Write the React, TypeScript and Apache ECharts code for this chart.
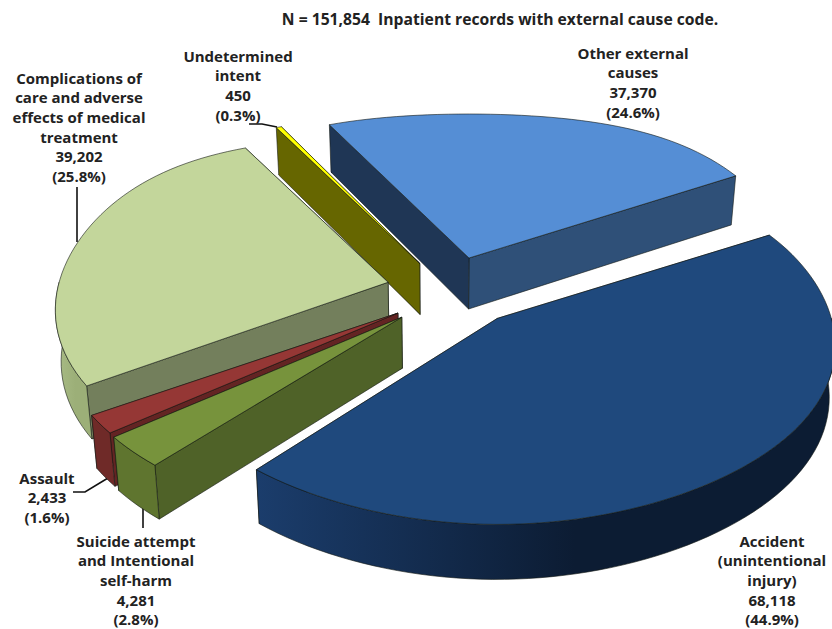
import React, { useEffect, useRef } from "react";
import * as echarts from "echarts";

// Slices in clockwise order, starting from the top-left of "Other external causes"
const categories = [
  "Other external\ncauses",
  "Accident\n(unintentional\ninjury)",
  "Suicide attempt\nand Intentional\nself-harm",
  "Assault",
  "Complications of\ncare and adverse\neffects of medical\ntreatment",
  "Undetermined\nintent",
];
const values = [37370, 68118, 4281, 2433, 39202, 450];
const valueLabels = ["37,370", "68,118", "4,281", "2,433", "39,202", "450"];
const percentLabels = ["(24.6%)", "(44.9%)", "(2.8%)", "(1.6%)", "(25.8%)", "(0.3%)"];

const topColors = ["#558ed5", "#1f497d", "#77933c", "#953735", "#c3d69b", "#ffff00"];
const startWallColors = ["#1f3655", "#16335a", "#4f6228", "#632423", "#737f5c", "#666600"];
const endWallColors = ["#2f5078", "#16335a", "#4f6228", "#632423", "#737f5c", "#666600"];
const outerLeftColors = ["#2f5078", "#1b3d6c", "#5f752f", "#6f2a28", "#a9bc86", "#666600"];
const outerRightColors = ["#2f5078", "#0c1c33", "#5f752f", "#6f2a28", "#9caf78", "#666600"];

const explodeX = [90, 87, 55, 54, 57, 51];
const explodeY = [35.5, 33.8, 38, 38, 36, 32];
const sliceRotate = [0, -0.5, 0.8, 0.8, 0.7, 1];
const sliceScaleX = [0.975, 1, 1, 1, 0.985, 1];
const sliceScaleY = [1, 1, 1, 1, 1.01, 1.02];
const drawOrder = [0, 5, 4, 3, 2, 1];

const START_ANGLE = -27.5;
const CENTER = [443, 292];
const DEPTH = 51;

const total = values.reduce((a, b) => a + b, 0);

const rad = (d: number) => (d * Math.PI) / 180;

function sliceAngles(i: number) {
  let acc = 0;
  for (let k = 0; k < i; k++) acc += values[k];
  const a0 = START_ANGLE + (acc / total) * 360 + sliceRotate[i];
  const a1 = a0 + (values[i] / total) * 360;
  return [a0, a1];
}

// Tilted, slightly perspective projection of a point on the rim
function rimOffset(deg: number) {
  const s = Math.sin(rad(deg));
  const v = Math.cos(rad(deg));
  const a = 334 - 52 * v + 32 * v * v * v;
  const b = 188 - 31 * v - 13 * v * v;
  return [a * s, -b * v];
}

function down(pt: number[], v = 0) {
  return [440 + (pt[0] - 440) * 0.985, pt[1] + DEPTH - 4 * v];
}

const edge = { stroke: "rgba(20,25,20,0.75)", lineWidth: 0.8, lineJoin: "round" };

function renderSlice(params: any, api: any) {
  const i = api.value(0);
  const [a0, a1] = sliceAngles(i);
  const mid = rad((a0 + a1) / 2);
  const apex = [
    CENTER[0] + explodeX[i] * Math.sin(mid),
    CENTER[1] - explodeY[i] * Math.cos(mid),
  ];
  const rim = (d: number) => {
    const o = rimOffset(d);
    return [apex[0] + o[0] * sliceScaleX[i], apex[1] + o[1] * sliceScaleY[i]];
  };
  const steps = Math.max(2, Math.ceil((a1 - a0) / 2));
  const arc: number[][] = [];
  for (let k = 0; k <= steps; k++) arc.push(rim(a0 + ((a1 - a0) * k) / steps));

  const apexDown = down(apex);
  const p0 = rim(a0);
  const p1 = rim(a1);
  const children: any[] = [];
  const base = params.dataIndex * 10;

  children.push({
    type: "polygon",
    z2: base + 1,
    shape: { points: [apex, p1, down(p1, Math.cos(rad(a1))), apexDown] },
    style: { fill: endWallColors[i], ...edge },
  });
  children.push({
    type: "polygon",
    z2: base + 2,
    shape: { points: [apex, p0, down(p0, Math.cos(rad(a0))), apexDown] },
    style: { fill: startWallColors[i], ...edge },
  });

  const o0 = Math.max(a0, 90);
  const o1 = Math.min(a1, 270);
  if (o1 > o0) {
    const n = Math.max(2, Math.ceil((o1 - o0) / 2));
    const upper: number[][] = [];
    const lower: number[][] = [];
    for (let k = 0; k <= n; k++) {
      const d = o0 + ((o1 - o0) * k) / n;
      const pt = rim(d);
      upper.push(pt);
      lower.push(down(pt, Math.cos(rad(d))));
    }
    children.push({
      type: "polygon",
      z2: base + 3,
      shape: { points: upper.concat(lower.reverse()) },
      style: {
        fill: new echarts.graphic.LinearGradient(0, 0, 1, 0, [
          { offset: 0, color: outerLeftColors[i] },
          { offset: 0.55, color: outerRightColors[i] },
          { offset: 1, color: outerRightColors[i] },
        ]),
        ...edge,
      },
    });
  }

  children.push({
    type: "polygon",
    z2: base + 4,
    shape: { points: [apex, ...arc] },
    style: { fill: topColors[i], ...edge },
  });
  return { type: "group", children };
}

const labelAnchors: number[][] = [
  [633, 43],
  [772, 531],
  [136, 531],
  [47, 468],
  [79, 68],
  [238, 46],
];

const leaders: number[][][] = [
  [[77, 187], [77, 242]],
  [[249, 124], [262, 124], [277, 127]],
  [[73, 492], [85, 492], [108, 478]],
  [[143, 505], [143, 528]],
];

const FONT = "'Open Sans', Lato, sans-serif";

export default function App() {
  const ref = useRef<HTMLDivElement>(null);
  useEffect(() => {
    if (!ref.current) return;
    const chart = echarts.init(ref.current, undefined, { renderer: "svg" });
    const graphics: any[] = [
      {
        type: "text",
        x: 500,
        y: 19,
        style: {
          text: "N = 151,854  Inpatient records with external cause code.",
          fill: "#222",
          font: `bold 15.7px ${FONT}`,
          align: "center",
          verticalAlign: "middle",
        },
      },
    ];
    categories.forEach((c, i) => {
      graphics.push({
        type: "text",
        x: labelAnchors[i][0],
        y: labelAnchors[i][1],
        style: {
          text: `${c}\n${valueLabels[i]}\n${percentLabels[i]}`,
          fill: "#222",
          font: `bold 15px ${FONT}`,
          lineHeight: 19.6,
          align: "center",
          verticalAlign: "top",
        },
      });
    });
    leaders.forEach((pts) => {
      graphics.push({
        type: "polyline",
        shape: { points: pts },
        style: { stroke: "#111", lineWidth: 1.6, fill: "none" },
      });
    });
    chart.setOption({
      animation: false,
      backgroundColor: "#fff",
      graphic: graphics,
      series: [
        {
          type: "custom",
          coordinateSystem: "none",
          renderItem: renderSlice,
          silent: true,
          data: drawOrder.map((i) => [i, values[i]]),
        },
      ],
    });
    return () => chart.dispose();
  }, []);
  return (
    <div
      ref={ref}
      style={{ position: "absolute", left: 0, top: 0, width: 832, height: 629 }}
    />
  );
}
